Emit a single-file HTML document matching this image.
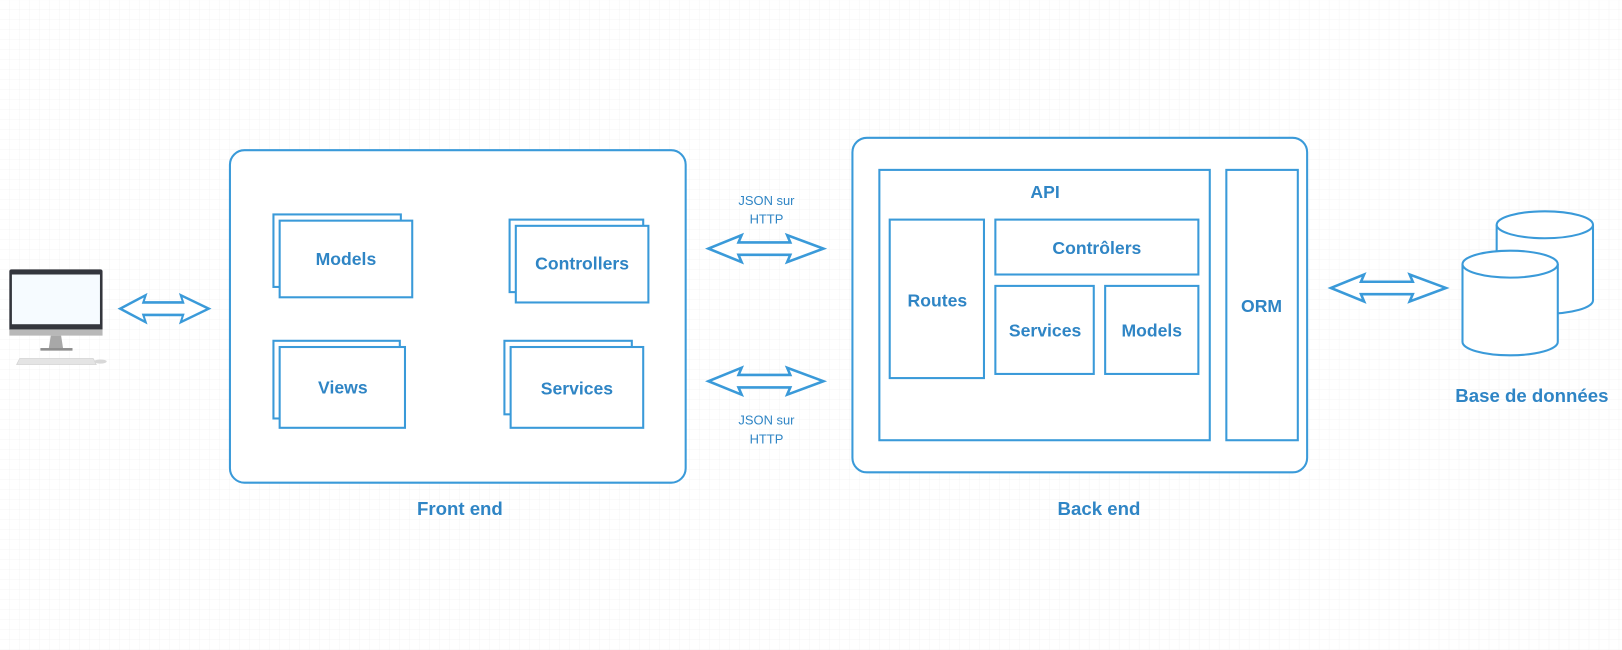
<!DOCTYPE html>
<html><head><meta charset="utf-8"><style>
html,body{margin:0;padding:0;background:#fff;}
svg{display:block;}
text{font-family:"Liberation Sans",sans-serif;fill:#2f85c5;text-anchor:middle;}
</style></head><body>
<svg width="1622" height="650" viewBox="0 0 1566 627.5" xmlns="http://www.w3.org/2000/svg">
<defs>
<pattern id="g" width="9.65" height="9.65" patternUnits="userSpaceOnUse">
<path d="M9.65 0V9.65H0" fill="none" stroke="#eeeeee" stroke-width="0.6"/>
</pattern>
<g id="arr"><path d="M0 0 L32 -13 L29 -6 L79 -6 L76 -13 L111 0 L76 13 L79 6 L29 6 L32 13 Z" fill="#fff" stroke="#3a9ad9" stroke-width="2.5" stroke-linejoin="miter"/></g>
</defs>
<rect width="1566" height="628" fill="#fff"/>
<rect width="1566" height="628" fill="url(#g)"/>
<g fill="#fff" stroke="#3a9ad9" stroke-width="2">
<rect x="222" y="145" width="440" height="321" rx="14"/>
<rect x="823" y="133" width="439" height="323" rx="14"/>
<rect x="264" y="207" width="123" height="70"/><rect x="270" y="213" width="128" height="74"/>
<rect x="264" y="329" width="122" height="75"/><rect x="270" y="335" width="121" height="78"/>
<rect x="492" y="212" width="129" height="70"/><rect x="498" y="218" width="128" height="74"/>
<rect x="487" y="329" width="123" height="71"/><rect x="493" y="335" width="128" height="78"/>
<rect x="849" y="164" width="319" height="261"/>
<rect x="859" y="212" width="91" height="153"/>
<rect x="961" y="212" width="196" height="53"/>
<rect x="961" y="276" width="95" height="85"/>
<rect x="1067" y="276" width="90" height="85"/>
<rect x="1184" y="164" width="69" height="261"/>
<!-- cylinders -->
<path d="M1445 217 V290 A46.5 13 0 0 0 1538 290 V217"/>
<ellipse cx="1491.5" cy="217" rx="46.5" ry="13"/>
<path d="M1412 255 V330 A46 13 0 0 0 1504 330 V255"/>
<ellipse cx="1458" cy="255" rx="46" ry="13"/>
</g>
<use href="#arr" transform="translate(116,298) scale(0.77,1)"/>
<use href="#arr" transform="translate(684,240)"/>
<use href="#arr" transform="translate(684,368)"/>
<use href="#arr" transform="translate(1285,278)"/>
<!-- computer -->
<rect x="9" y="260" width="90" height="60" rx="2" fill="#34363d"/>
<rect x="11.5" y="265" width="85" height="48" fill="#f6fbff"/>
<rect x="9" y="318" width="90" height="6" fill="#b8b8b8"/>
<path d="M49 324 H59 L61 337 H47 Z" fill="#a8a8a8"/>
<rect x="39" y="336" width="31" height="2.5" fill="#8e8e8e"/>
<path d="M19 346 H90 L93 352 H16 Z" fill="#e4e4e4" stroke="#d0d0d0" stroke-width="0.6"/>
<ellipse cx="97" cy="349" rx="6" ry="2" fill="#d8d8d8"/>
<g font-weight="bold" font-size="17">
<text x="334" y="256">Models</text>
<text x="331" y="380">Views</text>
<text x="562" y="260">Controllers</text>
<text x="557" y="381">Services</text>
<text x="1009" y="191">API</text>
<text x="905" y="296">Routes</text>
<text x="1059" y="245">Contrôlers</text>
<text x="1009" y="325">Services</text>
<text x="1112" y="325">Models</text>
<text x="1218" y="301">ORM</text>
</g>
<g font-weight="bold" font-size="18">
<text x="444" y="497">Front end</text>
<text x="1061" y="497">Back end</text>
<text x="1479" y="388">Base de données</text>
</g>
<g font-size="12.5">
<text x="740" y="198">JSON sur</text><text x="740" y="216">HTTP</text>
<text x="740" y="410">JSON sur</text><text x="740" y="428">HTTP</text>
</g>
</svg>
</body></html>
